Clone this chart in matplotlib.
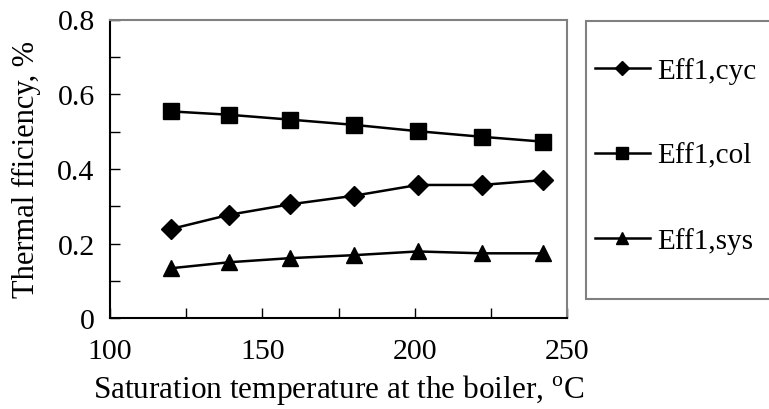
import matplotlib
matplotlib.use("Agg")
import matplotlib.pyplot as plt
from matplotlib.patches import Rectangle
from matplotlib.ticker import MultipleLocator, FuncFormatter

plt.rcParams['font.family'] = ['Liberation Serif', 'DejaVu Serif']
plt.rcParams['mathtext.fontset'] = 'custom'
plt.rcParams['mathtext.rm'] = 'Liberation Serif'

temps = [120, 139, 159, 180, 201, 222, 242]
eff_cyc = [0.239, 0.277, 0.305, 0.328, 0.357, 0.357, 0.370]
eff_col = [0.554, 0.545, 0.532, 0.518, 0.501, 0.486, 0.473]
eff_sys = [0.134, 0.150, 0.161, 0.169, 0.179, 0.174, 0.174]
labels = ["Eff1,cyc", "Eff1,col", "Eff1,sys"]

W, H = 769, 410
fig = plt.figure(figsize=(W / 100, H / 100), dpi=100)
ax = fig.add_axes([110 / W, 1 - 319.3 / H, 457 / W, 298.8 / H])

l1, = ax.plot(temps, eff_cyc, color='black', lw=1.8, marker='D', ms=10)
l2, = ax.plot(temps, eff_col, color='black', lw=1.8, marker='s', ms=11)
l3, = ax.plot(temps, eff_sys, color='black', lw=1.8, marker='^', ms=12)

ax.set_xlim(100, 250)
ax.set_ylim(0, 0.8)
ax.xaxis.set_major_locator(MultipleLocator(25))
ax.yaxis.set_major_locator(MultipleLocator(0.1))
ax.xaxis.set_major_formatter(FuncFormatter(lambda v, p: f"{v:.0f}" if round(v) % 50 == 0 else ""))
ax.yaxis.set_major_formatter(FuncFormatter(lambda v, p: ("0" if abs(v) < 1e-9 else f"{v:.1f}") if round(v * 10) % 2 == 0 else ""))
ax.tick_params(direction='in', length=7, width=1, labelsize=21.5, colors='black')
ax.tick_params(axis='x', pad=14)
ax.tick_params(axis='y', pad=11)

for s in ['top', 'right']:
    ax.spines[s].set_color('#808080')
    ax.spines[s].set_linewidth(1.5)
for s in ['left', 'bottom']:
    ax.spines[s].set_linewidth(1.5)

ax.set_xlabel(r"Saturation temperature at the boiler, $^{\mathrm{o}}$C", fontsize=22.5, labelpad=6)
ax.set_ylabel("Thermal fficiency, %", fontsize=22, labelpad=12)

frame = Rectangle((586 / W, 1 - 300 / H), 0.4, (300 - 21.7) / H, transform=fig.transFigure,
                  facecolor='white', edgecolor='#808080', lw=1.5, clip_on=False)
fig.patches.append(frame)

leg = fig.legend([l1, l2, l3], labels, loc='center left',
                 bbox_to_anchor=(595 / W, 1 - 156.5 / H),
                 fontsize=21, frameon=False, handlelength=1.88, handletextpad=0.24,
                 labelspacing=2.0, borderaxespad=0, borderpad=0, markerscale=0.75)

fig.savefig("out.png", dpi=100)
